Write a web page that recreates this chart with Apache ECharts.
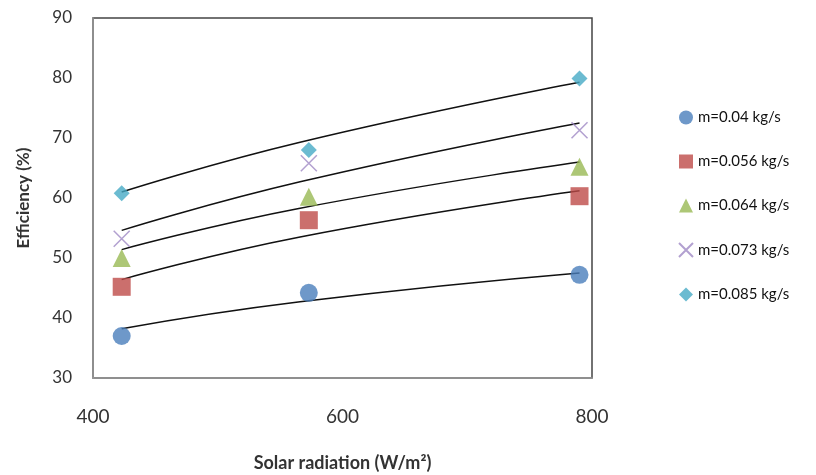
<!DOCTYPE html>
<html><head><meta charset="utf-8">
<script src="https://cdn.jsdelivr.net/npm/echarts@6/dist/echarts.min.js"></script>
<style>html,body{margin:0;padding:0;background:#fff}#c{width:816px;height:475px}</style>
</head><body><div id="c"></div>
<script>
// Data
const xValues = [423, 573, 790];
const seriesNames = ['m=0.04 kg/s', 'm=0.056 kg/s', 'm=0.064 kg/s', 'm=0.073 kg/s', 'm=0.085 kg/s'];
const eff004 = [37.0, 44.2, 47.2];
const eff0056 = [45.2, 56.3, 60.3];
const eff0064 = [50.0, 60.2, 65.2];
const eff0073 = [53.2, 65.8, 71.3];
const eff0085 = [60.8, 68.0, 79.9];
// Trend lines
const trendX = [423, 566, 790];
const trend004 = [38.2, 42.7, 47.5];
const trend0056 = [46.4, 53.5, 61.2];
const trend0064 = [51.4, 58.3, 66.0];
const trend0073 = [54.6, 62.7, 72.5];
const trend0085 = [61.0, 69.3, 79.3];
const yTicks = {min: 30, max: 90, interval: 10};
const xTicks = {min: 400, max: 800, interval: 200};

const colors = ['#4a7ebb', '#be4b48', '#98b954', '#9f88c4', '#46aac5'];
const symbols = ['circle', 'rect', 'triangle', 'path://M0,0 L10,10 M10,0 L0,10', 'diamond'];
const sizes = [18, 18, 18, 16, 16];
const dataSets = [eff004, eff0056, eff0064, eff0073, eff0085];
const trends = [trend004, trend0056, trend0064, trend0073, trend0085];
const font = 'Lato, "Open Sans", sans-serif';

const series = [];
trends.forEach((t, i) => {
  series.push({
    type: 'line', name: 'trend' + i, data: trendX.map((x, j) => [x, t[j]]),
    smooth: true, symbol: 'none', silent: true,
    lineStyle: {color: '#111', width: 1.5}, z: 1
  });
});
dataSets.forEach((d, i) => {
  const isCross = i === 3;
  series.push({
    type: 'scatter', name: seriesNames[i], data: xValues.map((x, j) => [x, d[j]]),
    symbol: symbols[i], symbolSize: sizes[i], z: 3,
    itemStyle: isCross ? {color: 'rgba(0,0,0,0)', borderColor: colors[i], borderWidth: 1.5} : {color: colors[i]}
  });
});

const chart = echarts.init(document.getElementById('c'), null, {renderer: 'canvas'});
chart.setOption({
  animation: false,
  backgroundColor: '#fff',
  grid: {left: 93, right: 224, top: 18, bottom: 97, outerBoundsMode: 'none', containLabel: false,
         show: true, borderColor: '#444', borderWidth: 1.5},
  xAxis: {
    type: 'value', min: xTicks.min, max: xTicks.max, interval: xTicks.interval,
    name: 'Solar radiation (W/m²)', nameLocation: 'middle', nameGap: 76,
    nameTextStyle: {fontFamily: font, fontSize: 18, fontWeight: 'bold', color: '#333'},
    axisLine: {show: true, lineStyle: {color: '#999', width: 1.5}},
    axisTick: {show: false}, splitLine: {show: false},
    axisLabel: {margin: 29, fontFamily: font, fontSize: 19, color: '#333'}
  },
  yAxis: {
    type: 'value', min: yTicks.min, max: yTicks.max, interval: yTicks.interval,
    name: 'Efficiency (%)', nameLocation: 'middle', nameGap: 61, nameRotate: 90,
    nameTextStyle: {fontFamily: font, fontSize: 17, fontWeight: 'bold', color: '#333'},
    axisLine: {show: true, lineStyle: {color: '#999', width: 1.5}},
    axisTick: {show: false}, splitLine: {show: false},
    axisLabel: {margin: 21, fontFamily: font, fontSize: 17, color: '#333'}
  },
  legend: {
    data: seriesNames, orient: 'vertical', left: 673, top: 105, itemGap: 29,
    itemWidth: 14, itemHeight: 14,
    textStyle: {fontFamily: font, fontSize: 15, color: '#111'}
  },
  series: series
});
</script></body></html>
